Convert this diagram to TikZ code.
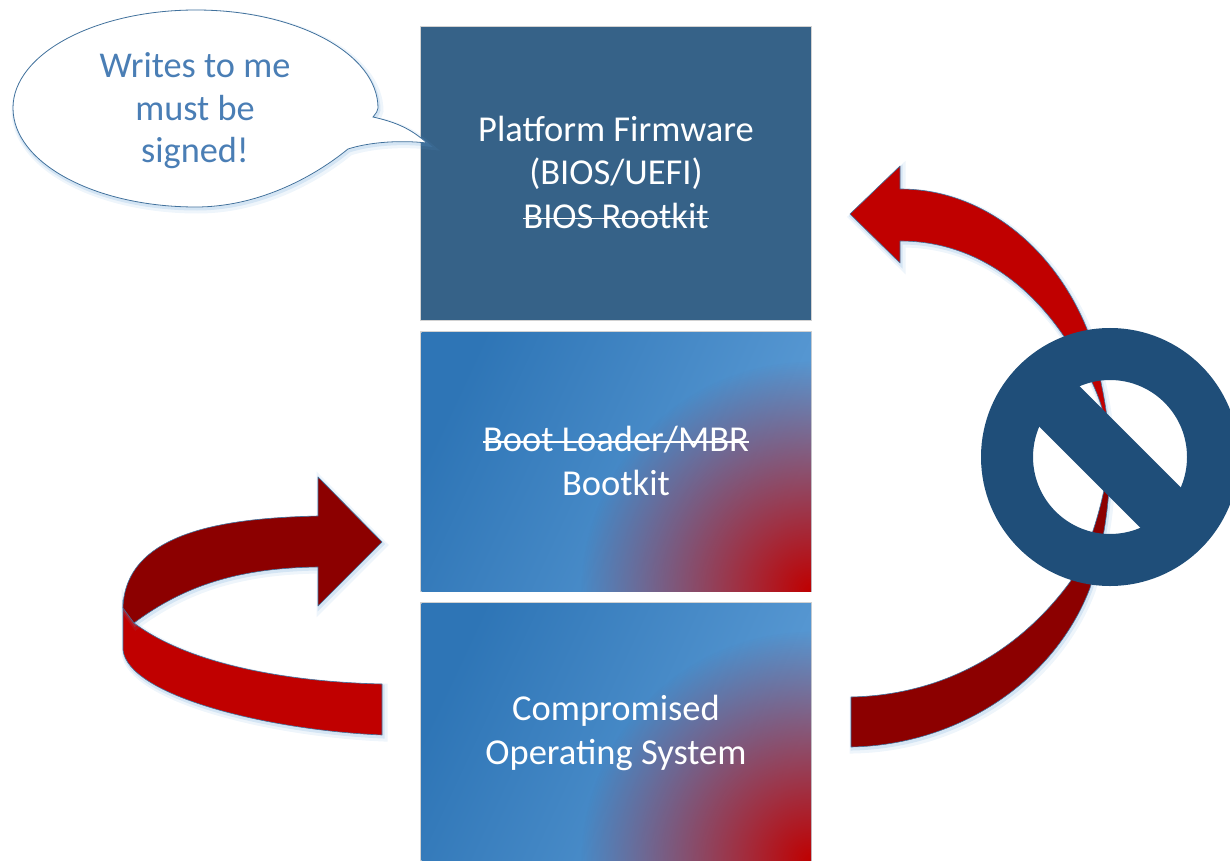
\documentclass[tikz,border=0pt]{standalone}
\usepackage{xcolor}
\usepackage{fontspec}
\setmainfont{Carlito}
\usetikzlibrary{fadings}
\definecolor{firmblue}{HTML}{366288}
\definecolor{boxdark}{HTML}{2E75B6}
\definecolor{boxlight}{HTML}{5B9BD5}
\definecolor{ribbonred}{HTML}{C00000}
\definecolor{ribbondark}{HTML}{8C0000}
\definecolor{stopblue}{HTML}{1F4E79}
\definecolor{edgeblue}{HTML}{41719C}
\definecolor{saytext}{HTML}{4A7EB5}
\newcommand{\struck}[1]{\setbox0\hbox{#1}\rlap{\rule[0.24em]{\wd0}{1.6pt}}\box0}
\tikzfading[name=cornerfade, inner color=transparent!0, outer color=transparent!100]
\tikzset{
	softglow/.style={preaction={draw=boxlight, line width=7pt, opacity=.10, transform canvas={shift={(2pt,-3pt)}}},
		preaction={draw=boxlight, line width=3pt, opacity=.18, transform canvas={shift={(1pt,-2pt)}}}},
	ribbon/.style={softglow, draw=edgeblue, line width=.6pt, line join=round},
	boxtext/.style={text=white, align=center, font=\fontsize{36.5}{43.5}\selectfont},
	saying/.style={text=saytext, align=center, font=\fontsize{36.3}{42.5}\selectfont},
}
\begin{document}
\begin{tikzpicture}[x=1pt,y=-1pt]
		\clip(0,0)rectangle(1230,861);
		\fill[gray!35](420,26)rectangle(812,321);
		\fill[firmblue](421,27)rectangle(811,320);
		\foreach \nm/\tp/\bt in {mid/332/591,low/603/861}{
			\fill[gray!35](420,\tp-1)rectangle(812,\bt+1);
			\begin{scope}
				\clip(421.5,\tp)rectangle(811,\bt);
				\shade[left color=boxdark, middle color=boxlight, right color=boxlight, shading angle=65](421.5,\tp)rectangle(811,\bt);
				\fill[ribbonred, path fading=cornerfade](811,\bt)circle(230);
			\end{scope}
		}
		\node[boxtext](firmware)at(616,172){Platform Firmware\\(BIOS/UEFI)\\\struck{BIOS Rootkit}};
		\node[boxtext](loader)at(616,461){\struck{Boot Loader/MBR}\\Bootkit};
		\node[boxtext](system)at(616,733){Compromised\\Operating System};
		\draw[softglow, draw=edgeblue, fill=white, line width=.8pt](378,108)..controls(378,54)and(297,10)..(196,10)
			..controls(95,10)and(13,54)..(13,108)..controls(13,163)and(95,207)..(196,207)
			..controls(255,207)and(310,180)..(348,149)..controls(370,142)and(400,140)..(427,143)
			..controls(410,128)and(395,122)..(373,117)..controls(376,113)and(378,111)..(378,108)--cycle;
		\node[saying](speech)at(195,111){Writes to me\\must be\\signed!};
		\draw[ribbon, fill=ribbonred](123,600)--(123,650)..controls(128,695)and(265,730)..(382,735)--(382,684)
			..controls(290,682)and(190,665)..(134,623)--cycle;
		\draw[ribbon, fill=ribbondark](318,516)..controls(230,518)and(125,530)..(123,608)--(134,623)
			..controls(185,585)and(240,568)..(318,567)--(318,606)--(382,542)--(318,477)--cycle;
		\draw[ribbon, fill=ribbonred](850,214)--(900,166)--(900,189)..controls(985,189)and(1055,250)..(1087,329)
			..controls(1100,370)and(1110,420)..(1110,457)..controls(1108,420)and(1100,385)..(1063,335)
			..controls(1025,280)and(970,241)..(900,241)--(900,263)--cycle;
		\draw[ribbon, fill=ribbondark](851,697)..controls(945,695)and(1020,650)..(1070,582)
			..controls(1095,540)and(1105,490)..(1110,457)..controls(1110,500)and(1105,540)..(1090,588)
			..controls(1055,680)and(960,745)..(851,747)--cycle;
		\draw[softglow, draw=stopblue, line width=52pt](1110,457)circle(103);
		\draw[stopblue, line width=57pt](1037,384)--(1183,530);
\end{tikzpicture}
\end{document}
